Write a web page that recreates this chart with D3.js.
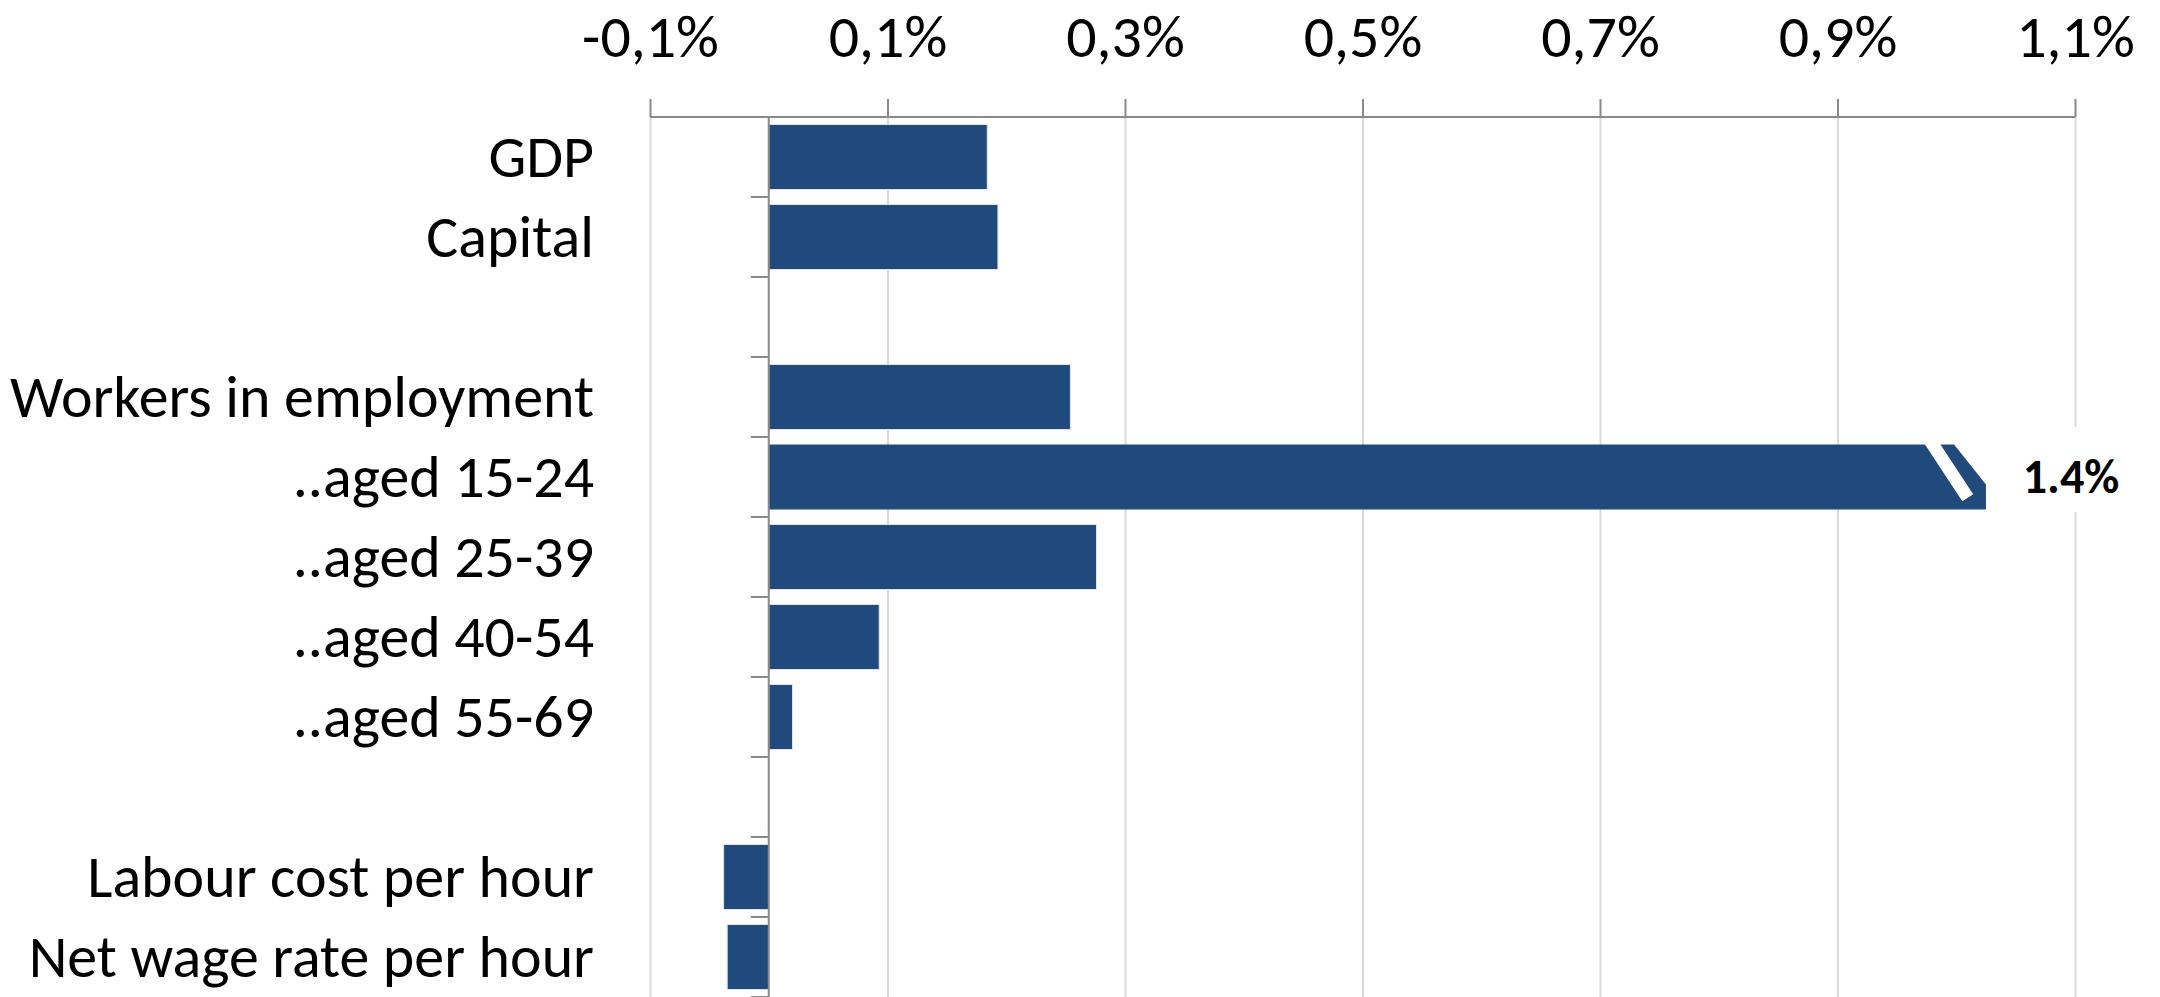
<!DOCTYPE html>
<html>
<head>
<meta charset="utf-8">
<script src="https://cdn.jsdelivr.net/npm/d3@7/dist/d3.min.js"></script>
<style>
  html, body { margin: 0; padding: 0; background: #ffffff; }
  svg { display: block; }
  text { font-family: Carlito, Calibri, Lato, "Liberation Sans", sans-serif; fill: #000; }
</style>
</head>
<body>
<svg id="chart" width="2160" height="997"></svg>
<script>
// ---- data ----
const categories = [
  "GDP", "Capital", "",
  "Workers in employment", "..aged 15-24", "..aged 25-39", "..aged 40-54", "..aged 55-69", "",
  "Labour cost per hour", "Net wage rate per hour"
];
const values = [0.184, 0.193, null, 0.254, 1.4, 0.276, 0.093, 0.020, null, -0.038, -0.035];
const tickValues = [-0.1, 0.1, 0.3, 0.5, 0.7, 0.9, 1.1];
const tickLabels = ["-0,1%", "0,1%", "0,3%", "0,5%", "0,7%", "0,9%", "1,1%"];
const axisBreak = 1.025;          // bars beyond this value are drawn broken
const breakLabels = ["1.4%"];     // label for the broken bar

// ---- layout ----
const plotTop = 117, plotBottom = 997;
const svg = d3.select("#chart");

const x = d3.scaleLinear().domain([-0.1, 1.1]).range([650, 2075]);
const y = d3.scaleBand()
  .domain(d3.range(categories.length))
  .range([plotTop, plotBottom])
  .paddingInner(0.1875)
  .paddingOuter(0.09375);

const barColor = "#214a7c";
const gridColor = "#d9d9d9";
const axisColor = "#898989";
const baseFont = 58;

// gridlines
const grid = svg.append("g").attr("transform", `translate(0,${plotTop})`)
  .call(d3.axisBottom(x).tickValues(tickValues).tickSize(plotBottom - plotTop).tickFormat(""));
grid.select(".domain").remove();
grid.selectAll("line").attr("stroke", gridColor).attr("stroke-width", 2);

// bars
const data = categories.map((c, i) => ({ c, v: values[i], i })).filter(d => d.v !== null);
const normal = data.filter(d => d.v <= axisBreak);
const broken = data.filter(d => d.v > axisBreak);

svg.append("g").selectAll("rect").data(normal).join("rect")
  .attr("x", d => x(Math.min(0, d.v)))
  .attr("width", d => Math.abs(x(d.v) - x(0)))
  .attr("y", d => y(d.i))
  .attr("height", y.bandwidth())
  .attr("fill", barColor)
  .attr("stroke", "#dbe3ee")
  .attr("stroke-width", 1);

const bg = svg.append("g");
broken.forEach((d, k) => {
  const x0 = x(0), x1 = x(axisBreak);
  const y0 = y(d.i), y1 = y0 + y.bandwidth();
  const bw = y.bandwidth();
  const cx = bw * 0.49, cy = bw * 0.615;
  bg.append("path")
    .attr("d", `M${x0},${y0}L${x1 - cx},${y0}L${x1},${y0 + cy}L${x1},${y1}L${x0},${y1}Z`)
    .attr("fill", barColor);
  bg.append("line")
    .attr("x1", x1 - bw * 0.88).attr("y1", y0 - 6)
    .attr("x2", x1 - bw * 0.28).attr("y2", y0 + bw * 0.82)
    .attr("stroke", "#ffffff").attr("stroke-width", 13).attr("stroke-linecap", "butt");
  const lx = x(1.1) - 4, ly = y0 + bw / 2;
  bg.append("rect")
    .attr("x", lx - 52).attr("y", ly - 50)
    .attr("width", 104).attr("height", 85)
    .attr("fill", "#ffffff");
  bg.append("text")
    .attr("x", lx).attr("y", ly)
    .attr("dy", "0.34em")
    .attr("text-anchor", "middle")
    .attr("font-weight", "bold")
    .attr("font-size", 48)
    .text(breakLabels[k]);
});

// category axis at zero
const catAxis = svg.append("g").attr("transform", `translate(${x(0)},0)`);
catAxis.append("line")
  .attr("x1", 0).attr("x2", 0).attr("y1", plotTop).attr("y2", plotBottom)
  .attr("stroke", axisColor).attr("stroke-width", 2);
catAxis.selectAll("line.tick").data(d3.range(1, categories.length + 1)).join("line")
  .attr("class", "tick")
  .attr("x1", -18).attr("x2", 0)
  .attr("y1", i => plotTop + i * y.step()).attr("y2", i => plotTop + i * y.step())
  .attr("stroke", axisColor).attr("stroke-width", 2);

// category labels
const labels = svg.append("g").selectAll("text").data(categories.map((c, i) => ({ c, i }))).join("text")
  .attr("x", 594)
  .attr("y", d => y(d.i) + y.bandwidth() / 2)
  .attr("dy", "0.33em")
  .attr("text-anchor", "end")
  .attr("font-size", baseFont)
  .text(d => d.c);

// top value axis
const topAxis = svg.append("g").attr("transform", `translate(0,${plotTop})`)
  .call(d3.axisTop(x).tickValues(tickValues).tickSize(18).tickPadding(42)
    .tickFormat((d, i) => tickLabels[i]));
topAxis.select(".domain").attr("stroke", axisColor).attr("stroke-width", 2)
  .attr("d", `M${x(-0.1)},0H${x(1.1)}`);
topAxis.selectAll(".tick line").attr("stroke", axisColor).attr("stroke-width", 2);
topAxis.selectAll(".tick text")
  .attr("font-size", baseFont)
  .attr("font-family", "Carlito, Calibri, Lato, 'Liberation Sans', sans-serif")
  .attr("fill", "#000");

// fit font size so the text widths match the reference (Calibri-like metrics)
const longest = labels.filter(d => d.c === "Workers in employment").node();
const wNow = longest.getComputedTextLength();
const fs = baseFont * 584 / wNow;
labels.attr("font-size", fs);
topAxis.selectAll(".tick text").attr("font-size", fs);
</script>
</body>
</html>
